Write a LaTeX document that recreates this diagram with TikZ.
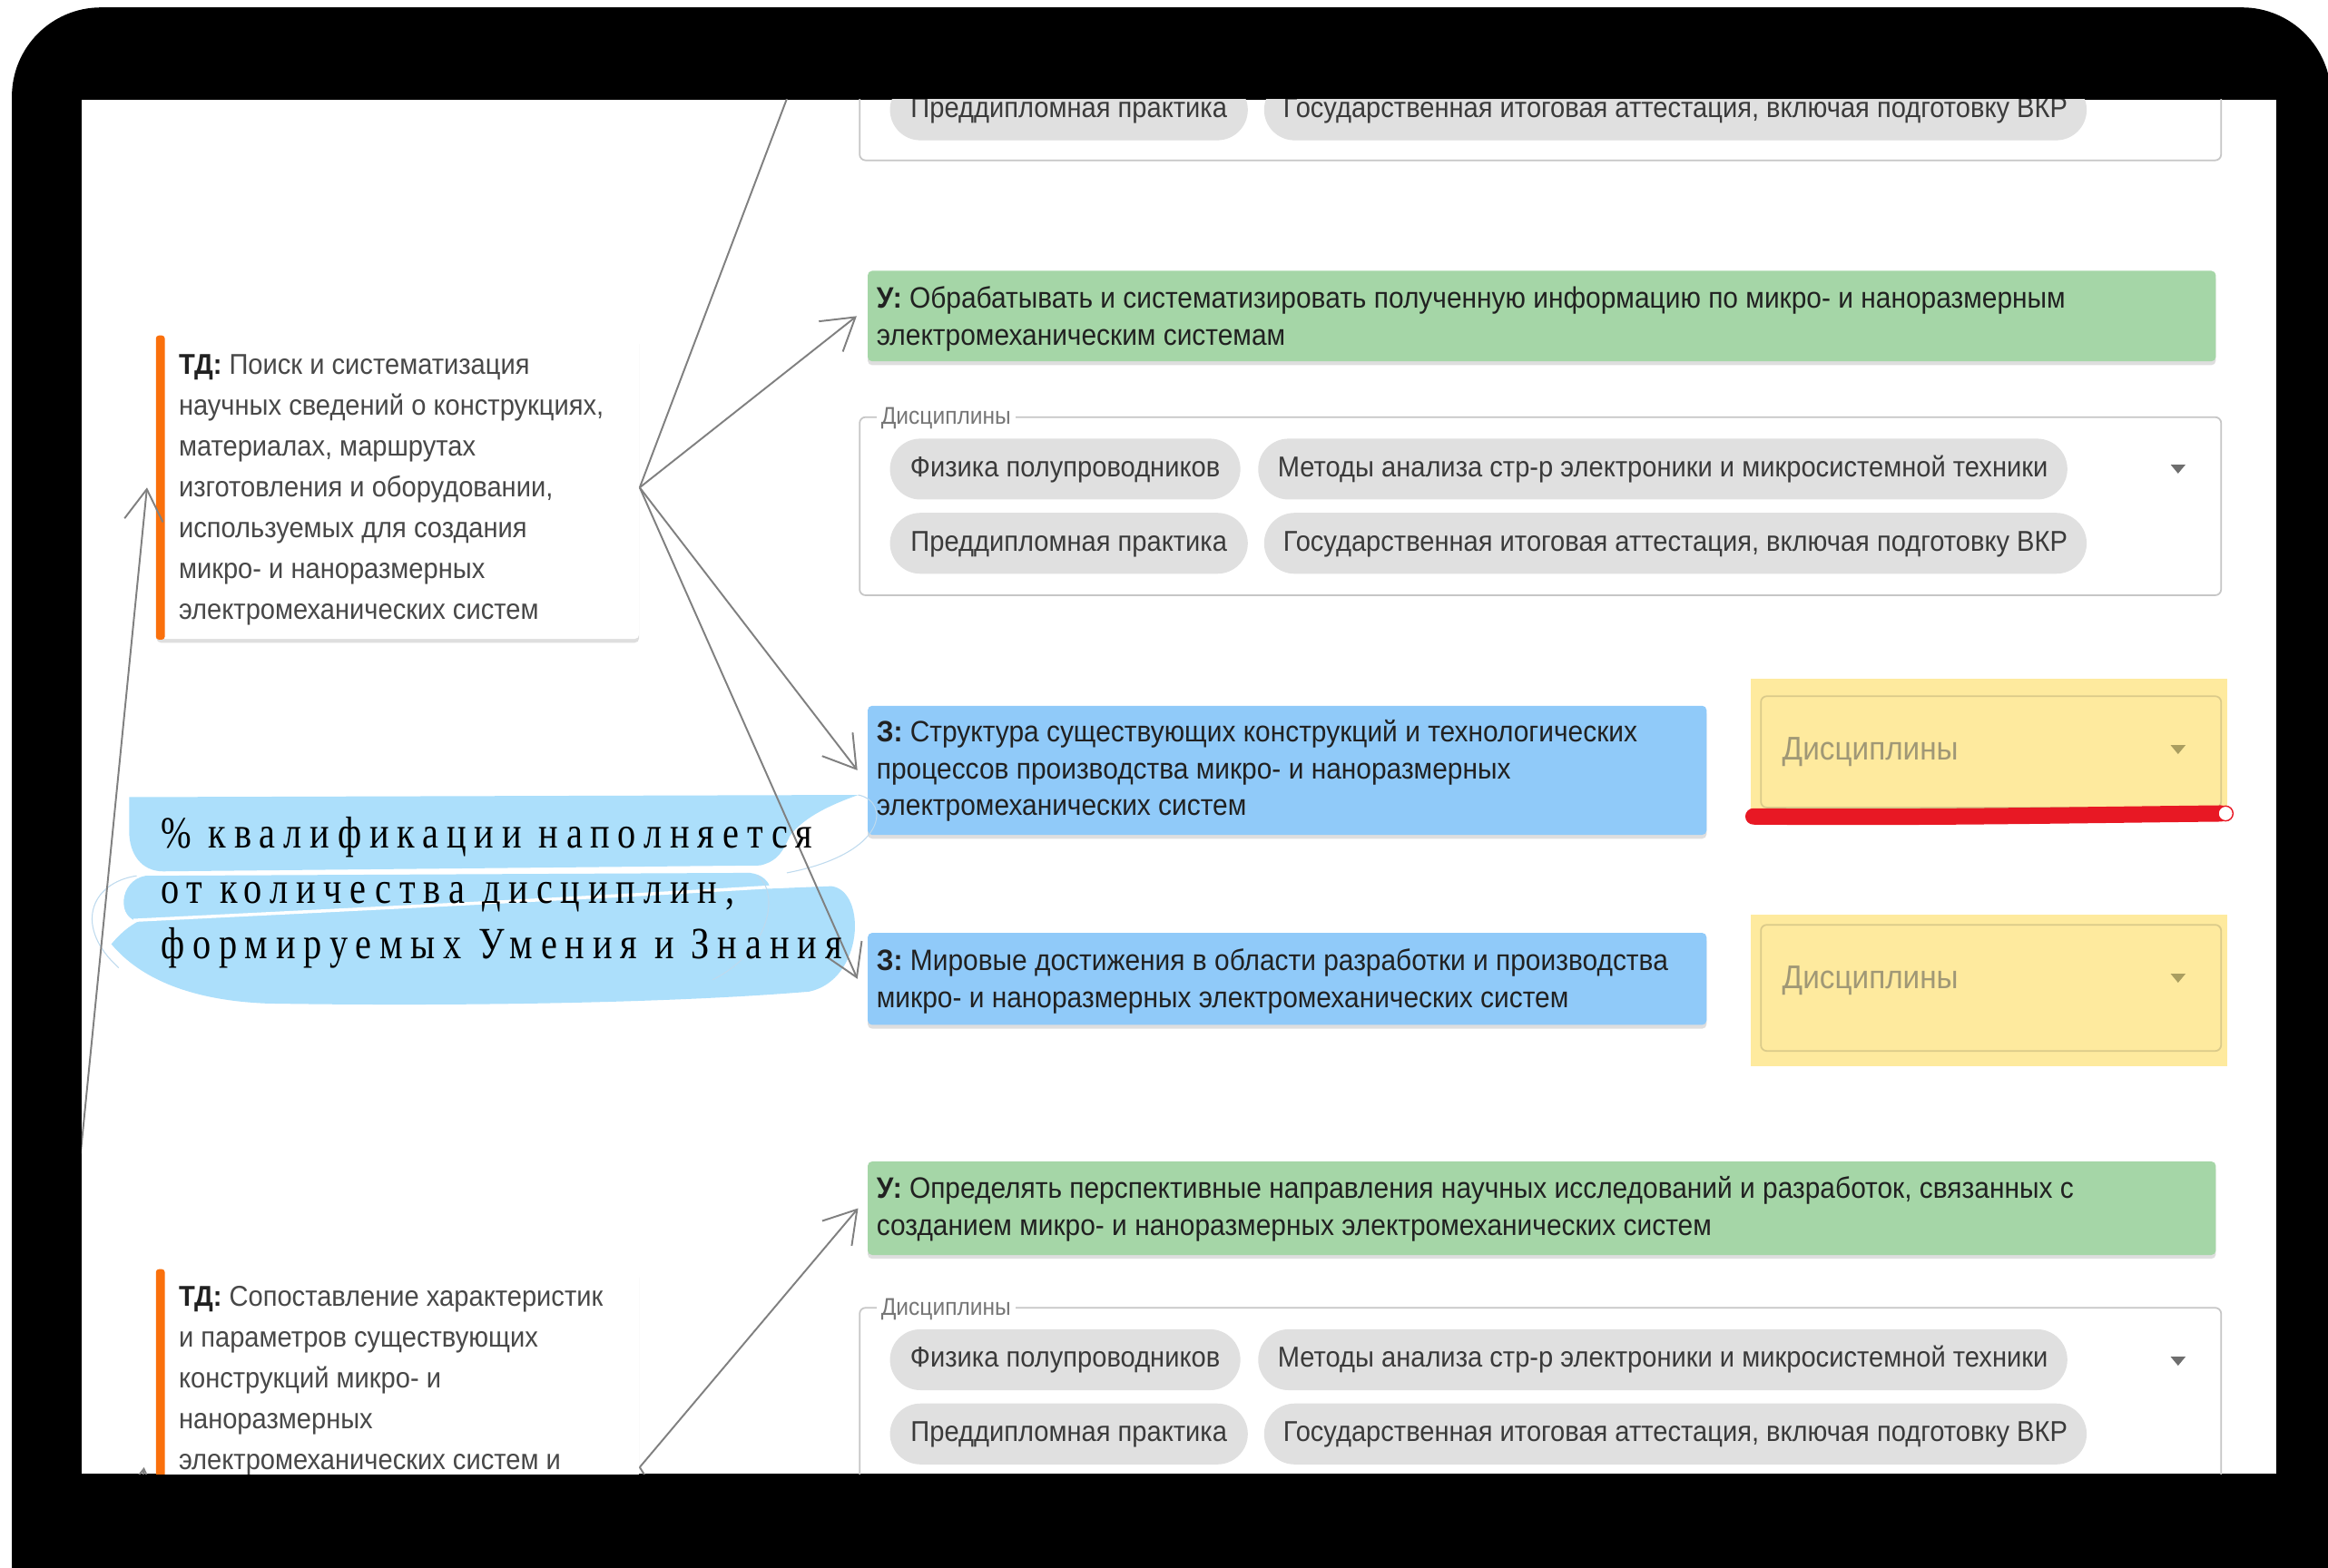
\documentclass[tikz,border=0pt]{standalone}
\usepackage{fontspec}
\newfontfamily\uifont{Liberation Sans}[FakeStretch=0.92]
\newfontfamily\annfont{Liberation Serif}[FakeStretch=0.82,LetterSpace=18]
\usetikzlibrary{arrows.meta,shadows}
\newdimen\un \un=0.0163584cm
\definecolor{grn}{RGB}{165,214,167}
\definecolor{blu}{RGB}{144,202,249}
\definecolor{ylw}{RGB}{254,234,158}
\definecolor{ylwln}{RGB}{218,202,138}
\definecolor{ylwtx}{RGB}{160,152,118}
\definecolor{ylwar}{RGB}{170,158,96}
\definecolor{chipc}{RGB}{224,224,224}
\definecolor{txt}{RGB}{33,33,33}
\definecolor{tdtx}{RGB}{72,72,72}
\definecolor{chiptx}{RGB}{58,58,58}
\definecolor{legc}{RGB}{118,118,118}
\definecolor{brd}{RGB}{198,198,198}
\definecolor{conn}{RGB}{128,128,128}
\definecolor{org}{RGB}{250,112,12}
\definecolor{brush}{RGB}{172,223,251}
\definecolor{brushln}{RGB}{190,218,238}
\definecolor{redm}{RGB}{232,24,36}
\definecolor{arrc}{RGB}{110,110,110}
\tikzset{
  ln/.style={font=\uifont\fontsize{9.25}{11}\selectfont, inner sep=0pt, anchor=base west, text=txt},
  tdln/.style={ln, font=\uifont\fontsize{9}{11}\selectfont, text=tdtx},
  card/.style={anchor=north west, inner sep=0pt, rounded corners=3\un, drop shadow={shadow xshift=0pt,shadow yshift=-1.2pt,opacity=0.28,fill=black!45}},
  chipst/.style={anchor=west, fill=chipc, rounded corners=20.5\un, minimum height=41\un, inner xsep=0pt, inner ysep=0pt, text height=6.3pt, text depth=1.6pt, font=\uifont\fontsize{9}{11}\selectfont, text=chiptx},
  grpbox/.style={draw=brd, line width=0.5pt, rounded corners=4\un},
  legend/.style={anchor=west, fill=white, inner xsep=3\un, inner ysep=1pt, font=\uifont\fontsize{7.6}{9}\selectfont, text=legc},
  conline/.style={draw=conn, line width=0.55pt},
  arr/.style={conline, -{Straight Barb[length=0.344cm,width=0.425cm]}},
  phold/.style={anchor=base west, inner sep=0pt, font=\uifont\fontsize{10.3}{12}\selectfont, text=ylwtx},
  ann/.style={anchor=base west, inner sep=0pt, font=\annfont\fontsize{14}{16}\selectfont, text=black},
}
\newcommand\ddarrow[2]{\fill[#2] (#1) ++(-5,-3) -- ++(10,0) -- ++(-5,6) -- cycle;}
\begin{document}
\begin{tikzpicture}[x=0.0163584cm,y=-0.0163584cm]
\useasboundingbox (0,0) rectangle (1568,1056);
\fill[white] (0,0) rectangle (1568,1056);
\fill[black, rounded corners=60\un] (8,5) rectangle (1570,1150);
\fill[white] (55,67) rectangle (1533,993);
\begin{scope}
\clip (55,67) rectangle (1533,993);

% ---------- top partial group ----------
\draw[grpbox] (579,20) rectangle (1496,108);
\node[chipst, minimum width=241\un] (g0c1) at (599,74) {Преддипломная практика};
\node[chipst, minimum width=554\un] (g0c2) at (851,74) {Государственная итоговая аттестация, включая подготовку ВКР};

% ---------- green 1 ----------
\node[card, fill=grn, minimum width=908\un, minimum height=61\un] (u1) at (584,182) {};
\node[ln] (u1a) at (590,207.5) {\textbf{У:} Обрабатывать и систематизировать полученную информацию по микро- и наноразмерным};
\node[ln] (u1b) at (590,232.5) {электромеханическим системам};

% ---------- group 1 ----------
\draw[grpbox] (579,281) rectangle (1496,401);
\node[legend] (leg1) at (590,282) {Дисциплины};
\node[chipst, minimum width=236\un] (g1c1) at (599,316) {Физика полупроводников};
\node[chipst, minimum width=545\un] (g1c2) at (847,316) {Методы анализа стр-р электроники и микросистемной техники};
\node[chipst, minimum width=241\un] (g1c3) at (599,366) {Преддипломная практика};
\node[chipst, minimum width=554\un] (g1c4) at (851,366) {Государственная итоговая аттестация, включая подготовку ВКР};
\ddarrow{1467,316}{arrc}

% ---------- blue 1 ----------
\node[card, fill=blu, minimum width=565\un, minimum height=87\un] (z1) at (584,475) {};
\node[ln] (z1a) at (590,499.5) {\textbf{З:} Структура существующих конструкций и технологических};
\node[ln] (z1b) at (590,524.5) {процессов производства микро- и наноразмерных};
\node[ln] (z1c) at (590,549.5) {электромеханических систем};

% ---------- yellow 1 ----------
\fill[ylw] (1179,457) rectangle (1500,552);
\draw[ylwln, line width=0.5pt, rounded corners=4\un] (1186,469) rectangle (1496,544);
\node[phold] (ph1) at (1200,512) {Дисциплины};
\ddarrow{1467,505}{ylwar}
\draw[redm, line width=11\un, line cap=round] (1181,550) .. controls (1300,551) and (1400,549) .. (1496,548);
\draw[redm, line width=0.4pt, fill=white] (1499,548) circle[radius=5\un];

% ---------- blue 2 ----------
\node[card, fill=blu, minimum width=565\un, minimum height=62\un] (z2) at (584,628) {};
\node[ln] (z2a) at (590,653.5) {\textbf{З:} Мировые достижения в области разработки и производства};
\node[ln] (z2b) at (590,679) {микро- и наноразмерных электромеханических систем};

% ---------- yellow 2 ----------
\fill[ylw] (1179,616) rectangle (1500,718);
\draw[ylwln, line width=0.5pt, rounded corners=4\un] (1186,623) rectangle (1496,708);
\node[phold] (ph2) at (1200,666) {Дисциплины};
\ddarrow{1467,659}{ylwar}

% ---------- green 2 ----------
\node[card, fill=grn, minimum width=908\un, minimum height=63\un] (u2) at (584,782) {};
\node[ln] (u2a) at (590,807.5) {\textbf{У:} Определять перспективные направления научных исследований и разработок, связанных с};
\node[ln] (u2b) at (590,832.5) {созданием микро- и наноразмерных электромеханических систем};

% ---------- group 2 ----------
\draw[grpbox] (579,881) rectangle (1496,1100);
\node[legend] (leg2) at (590,882) {Дисциплины};
\node[chipst, minimum width=236\un] (g2c1) at (599,916) {Физика полупроводников};
\node[chipst, minimum width=545\un] (g2c2) at (847,916) {Методы анализа стр-р электроники и микросистемной техники};
\node[chipst, minimum width=241\un] (g2c3) at (599,966) {Преддипломная практика};
\node[chipst, minimum width=554\un] (g2c4) at (851,966) {Государственная итоговая аттестация, включая подготовку ВКР};
\ddarrow{1467,917}{arrc}

% ---------- TD 1 ----------
\node[card, fill=white, minimum width=325\un, minimum height=204\un] (td1) at (105,226) {};
\fill[org, rounded corners=2\un] (td1.north west) rectangle ([xshift=6\un]td1.south west);
\node[tdln] (td1a) at (120,252) {\textbf{\color{txt}ТД:} Поиск и систематизация};
\node[tdln] (td1b) at (120,279.5) {научных сведений о конструкциях,};
\node[tdln] (td1c) at (120,307) {материалах, маршрутах};
\node[tdln] (td1d) at (120,334.5) {изготовления и оборудовании,};
\node[tdln] (td1e) at (120,362) {используемых для создания};
\node[tdln] (td1f) at (120,389.5) {микро- и наноразмерных};
\node[tdln] (td1g) at (120,417) {электромеханических систем};

% ---------- TD 2 ----------
\node[card, fill=white, minimum width=325\un, minimum height=266\un] (td2) at (105,855) {};
\fill[org, rounded corners=2\un] (td2.north west) rectangle ([xshift=6\un]td2.south west);
\node[tdln] (td2a) at (120,880) {\textbf{\color{txt}ТД:} Сопоставление характеристик};
\node[tdln] (td2b) at (120,907.5) {и параметров существующих};
\node[tdln] (td2c) at (120,935) {конструкций микро- и};
\node[tdln] (td2d) at (120,962.5) {наноразмерных};
\node[tdln] (td2e) at (120,990) {электромеханических систем и};

% ---------- annotation brush ----------
\fill[brush] (87,537) -- (578,535.5) .. controls (560,542) and (542,550) .. (532,563)
  .. controls (527,574) and (524,580) .. (512,583) -- (110,587)
  .. controls (95,587) and (87,575) .. (87,560) -- cycle;
\fill[brush] (98,590) -- (505,588) .. controls (522,590) and (524,608) .. (508,612)
  -- (95,621) .. controls (78,620) and (80,593) .. (98,590) -- cycle;
\fill[brush] (75,636) .. controls (85,624) and (95,618) .. (110,615) -- (560,597)
  .. controls (584,600) and (582,660) .. (545,668)
  .. controls (450,676) and (300,678) .. (180,676)
  .. controls (130,674) and (95,660) .. (75,636) -- cycle;
\draw[white, line width=1pt] (90,620) .. controls (250,612) and (420,604) .. (575,594);
\draw[brushln, line width=0.3pt] (578,535.5) .. controls (600,540) and (598,575) .. (530,588);
\draw[brushln, line width=0.3pt] (92,590) .. controls (60,595) and (50,625) .. (80,652);
\draw[brushln, line width=0.3pt] (510,590) .. controls (525,600) and (520,640) .. (480,660);

% ---------- connectors ----------
\coordinate (cup) at (540,40);
\coordinate (clow1) at (52,800);
\coordinate (clow2) at (91,1040);
\coordinate (cdown) at (520,1130);
\draw[conline] (td1.east) -- (cup);
\draw[arr] (td1.east) -- ([xshift=-7\un]u1.west);
\draw[arr] (td1.east) -- ([xshift=-6.5\un]z1.west);
\draw[arr] (td1.east) -- ([xshift=-6.5\un]z2.west);
\draw[arr] (clow1) -- ([xshift=-6\un]td1.west);
\draw[arr] (clow2) -- ([xshift=-8\un]td2.west);
\draw[arr] (td2.east) -- ([xshift=-6\un]u2.west);
\draw[conline] (td2.east) -- (cdown);

% ---------- annotation text ----------
\node[ann] (ann1) at (108,571) {\% квалификации наполняется};
\node[ann] (ann2) at (108,608.5) {от количества дисциплин,};
\node[ann] (ann3) at (108,646) {формируемых Умения и Знания};
\end{scope}
\end{tikzpicture}
\end{document}
